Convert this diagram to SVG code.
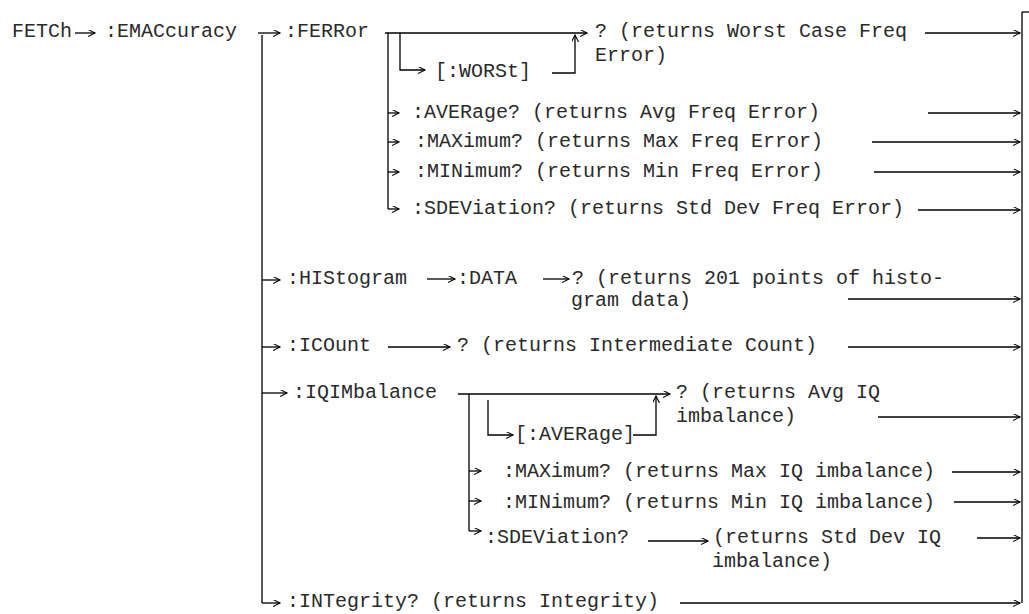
<svg xmlns="http://www.w3.org/2000/svg" width="1029" height="614" viewBox="0 0 1029 614">
<defs>
<marker id="ah" markerUnits="userSpaceOnUse" markerWidth="10" markerHeight="10" refX="7" refY="3.5" orient="auto">
<path d="M0,0 L7,3.5 L0,7" fill="none" stroke="#000" stroke-width="1.1"/>
</marker>
<style>
text{font-family:"Liberation Mono","Courier New",monospace;font-size:20px;fill:#2a2a2a}
.c line,.c path{stroke:#000;stroke-width:1.3;fill:none}
.a{marker-end:url(#ah)}
</style>
</defs>
<rect width="1029" height="614" fill="#fff"/>
<g class="c" id="connectors">
<line class="a" x1="75" y1="33" x2="95" y2="33"/>
<line class="a" x1="258" y1="33" x2="280" y2="33"/>
<line x1="262" y1="35" x2="262" y2="603"/>
<line class="a" x1="262" y1="280" x2="280" y2="280"/>
<line class="a" x1="262" y1="347" x2="280" y2="347"/>
<line class="a" x1="262" y1="393" x2="287" y2="393"/>
<line class="a" x1="262" y1="603" x2="280" y2="603"/>
<line class="a" x1="680" y1="603" x2="1020" y2="603"/>
<line class="a" x1="385" y1="33" x2="587" y2="33"/>
<line x1="388" y1="33" x2="388" y2="209"/>
<path d="M400,33 V70 H425" class="a"/>
<path d="M552,73 H575 V35" class="a"/>
<line class="a" x1="388" y1="113" x2="399" y2="113"/>
<line class="a" x1="388" y1="142" x2="399" y2="142"/>
<line class="a" x1="388" y1="172" x2="399" y2="172"/>
<line class="a" x1="388" y1="209" x2="399" y2="209"/>
<line class="a" x1="925" y1="33" x2="1020" y2="33"/>
<line class="a" x1="928" y1="113" x2="1020" y2="113"/>
<line class="a" x1="872" y1="142" x2="1020" y2="142"/>
<line class="a" x1="874" y1="172" x2="1020" y2="172"/>
<line class="a" x1="918" y1="210" x2="1020" y2="210"/>
<line x1="1022" y1="12" x2="1022" y2="603"/>
<line x1="1022" y1="12" x2="1029" y2="12"/>
<line class="a" x1="427" y1="279" x2="455" y2="279"/>
<line class="a" x1="543" y1="279" x2="569" y2="279"/>
<line class="a" x1="848" y1="299" x2="1020" y2="299"/>
<line class="a" x1="388" y1="347" x2="450" y2="347"/>
<line class="a" x1="848" y1="347" x2="1020" y2="347"/>
<line class="a" x1="458" y1="394" x2="670" y2="394"/>
<line x1="469" y1="394" x2="469" y2="531"/>
<path d="M488,400 V435 H513" class="a"/>
<path d="M633,435 H656 V396" class="a"/>
<line class="a" x1="878" y1="417" x2="1020" y2="417"/>
<line class="a" x1="469" y1="471" x2="481" y2="471"/>
<line class="a" x1="469" y1="501" x2="481" y2="501"/>
<line class="a" x1="469" y1="531" x2="481" y2="531"/>
<line class="a" x1="648" y1="541" x2="708" y2="541"/>
<line class="a" x1="952" y1="472" x2="1020" y2="472"/>
<line class="a" x1="954" y1="502" x2="1020" y2="502"/>
<line class="a" x1="977" y1="538" x2="1020" y2="538"/>
</g>
<g id="fetch"><text x="12" y="37">FETCh</text></g>
<g id="emaccuracy"><text x="105" y="37">:EMACcuracy</text></g>
<g id="ferror"><text x="285" y="37">:FERRor</text></g>
<g id="ferror-q"><text x="595" y="37">? (returns Worst Case Freq</text><text x="595" y="61">Error)</text></g>
<g id="worst"><text x="435" y="77">[:WORSt]</text></g>
<g id="f-average"><text x="412" y="118">:AVERage? (returns Avg Freq Error)</text></g>
<g id="f-maximum"><text x="415" y="147">:MAXimum? (returns Max Freq Error)</text></g>
<g id="f-minimum"><text x="415" y="177">:MINimum? (returns Min Freq Error)</text></g>
<g id="f-sdeviation"><text x="412" y="214">:SDEViation? (returns Std Dev Freq Error)</text></g>
<g id="histogram"><text x="287" y="284">:HIStogram</text></g>
<g id="data"><text x="457" y="284">:DATA</text></g>
<g id="data-q"><text x="572" y="284">? (returns 201 points of histo-</text><text x="571" y="306">gram data)</text></g>
<g id="icount"><text x="287" y="351">:ICOunt</text></g>
<g id="icount-q"><text x="457" y="351">? (returns Intermediate Count)</text></g>
<g id="iqimbalance"><text x="293" y="398">:IQIMbalance</text></g>
<g id="iq-q"><text x="676" y="398">? (returns Avg IQ</text><text x="676" y="422">imbalance)</text></g>
<g id="iq-average"><text x="515" y="440">[:AVERage]</text></g>
<g id="iq-maximum"><text x="503" y="477">:MAXimum? (returns Max IQ imbalance)</text></g>
<g id="iq-minimum"><text x="503" y="508">:MINimum? (returns Min IQ imbalance)</text></g>
<g id="iq-sdeviation"><text x="485" y="543">:SDEViation?</text></g>
<g id="iq-sdev-q"><text x="713" y="543">(returns Std Dev IQ</text><text x="712" y="567">imbalance)</text></g>
<g id="integrity"><text x="287" y="607">:INTegrity? (returns Integrity)</text></g>
</svg>
